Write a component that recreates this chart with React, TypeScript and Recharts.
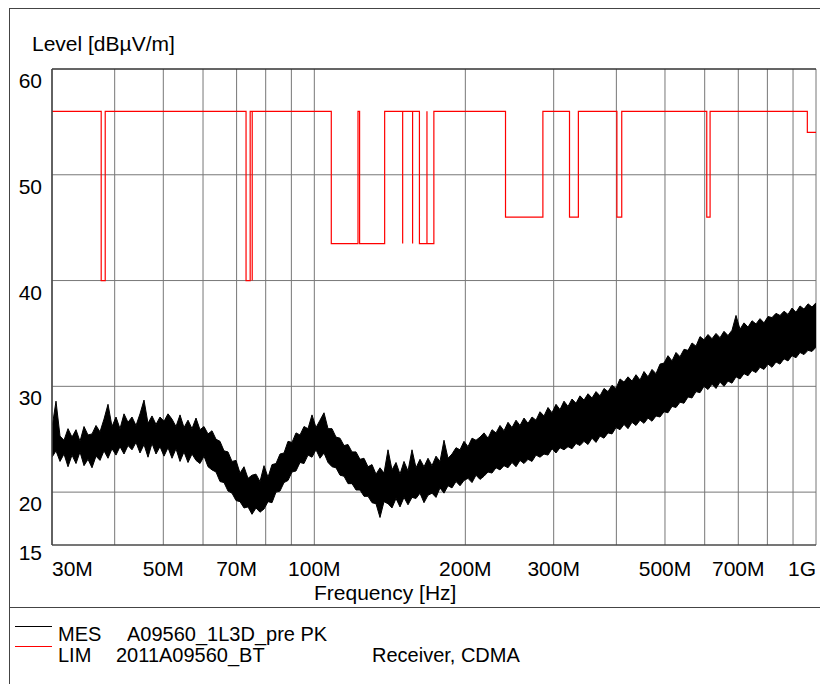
import React from "react";
import { ComposedChart, Line, Area, XAxis, YAxis, CartesianGrid, ReferenceLine } from "recharts";

// receiver sweep, log spaced 30 MHz .. 1 GHz
const SWEEP_START = 30;
const SWEEP_STOP = 1000;

// peak / dip readings of the MES trace, one pair per sweep step [dBuV/m]
const MES_PEAK = [
  26.1, 28.6, 25.3, 24.9, 26.0, 25.2, 25.9, 24.8, 26.2, 25.4,
  25.5, 26.3, 25.7, 26.9, 28.3, 26.2, 27.1, 26.0, 27.4, 26.6,
  27.1, 26.3, 27.4, 28.7, 26.5, 27.2, 26.4, 27.1, 26.7, 27.4,
  26.9, 26.2, 27.3, 26.1, 26.8, 26.0, 27.0, 25.9, 26.2, 25.5,
  25.8, 25.0, 24.8, 23.9, 23.8, 22.9, 23.0, 21.8, 22.4, 21.3,
  21.6, 21.7, 21.0, 22.5, 21.4, 22.6, 22.7, 23.6, 23.7, 24.8,
  24.7, 25.6, 25.4, 26.2, 26.0, 27.3, 26.1, 26.8, 27.5, 26.0,
  26.0, 25.2, 25.1, 24.4, 24.5, 23.8, 23.8, 23.1, 23.2, 22.4,
  22.6, 21.7, 22.3, 21.8, 24.0, 22.1, 22.8, 21.7, 22.9, 22.0,
  24.0, 22.3, 23.1, 22.4, 23.2, 22.5, 23.4, 22.9, 24.9, 23.2,
  23.6, 24.2, 24.0, 24.8, 24.3, 25.1, 24.9, 25.2, 25.6, 25.1,
  25.9, 25.6, 26.3, 25.8, 26.6, 26.1, 26.8, 26.3, 27.0, 26.5,
  27.1, 26.8, 27.6, 27.2, 28.0, 27.5, 28.3, 27.8, 28.6, 28.1,
  28.8, 28.4, 29.1, 28.7, 29.3, 28.9, 29.5, 29.1, 29.8, 29.5,
  30.1, 29.8, 30.7, 30.4, 30.9, 30.5, 31.1, 30.6, 31.4, 30.9,
  31.6, 31.2, 32.1, 32.2, 32.9, 32.4, 33.2, 32.8, 33.5, 33.4,
  34.1, 33.8, 34.7, 34.4, 34.9, 34.5, 35.0, 34.6, 35.2, 34.8,
  35.3, 36.7, 35.4, 36.0, 35.6, 36.2, 35.9, 36.4, 36.0, 36.6,
  36.5, 36.9, 36.7, 37.1, 36.8, 37.4, 37.0, 37.6, 37.3, 37.8,
  37.5, 37.9,
];
const MES_DIP = [
  23.3, 23.9, 22.9, 23.6, 22.4, 23.5, 22.7, 23.8, 22.5, 23.1,
  22.3, 23.4, 23.0, 23.9, 23.2, 24.1, 23.5, 24.3, 23.6, 24.4,
  24.0, 24.7, 23.7, 24.5, 23.3, 24.6, 23.6, 24.3, 23.4, 24.2,
  23.2, 24.1, 22.9, 23.8, 22.8, 23.6, 23.0, 22.7, 23.4, 22.4,
  22.1, 21.9, 21.0, 20.9, 20.1, 19.9, 19.2, 19.1, 18.5, 18.6,
  17.9, 18.5, 18.1, 18.4, 19.1, 19.0, 20.0, 20.1, 20.9, 21.1,
  21.9, 22.0, 22.8, 22.7, 23.5, 23.3, 24.0, 23.2, 23.7, 22.8,
  22.4, 22.3, 21.6, 21.5, 20.8, 20.8, 20.2, 20.2, 19.6, 19.6,
  19.0, 18.9, 17.6, 19.1, 18.9, 18.5, 19.4, 18.6, 19.5, 18.8,
  19.5, 19.4, 19.9, 19.0, 19.7, 19.9, 19.5, 20.4, 19.9, 20.6,
  20.4, 21.0, 20.6, 21.1, 21.3, 20.9, 21.6, 21.2, 21.5, 21.9,
  21.8, 22.3, 22.1, 22.5, 22.3, 22.8, 22.4, 23.0, 22.7, 23.1,
  22.9, 23.5, 23.3, 23.6, 23.5, 24.1, 23.7, 24.2, 24.0, 24.3,
  24.1, 24.6, 24.4, 24.8, 24.5, 25.1, 24.7, 25.3, 25.1, 25.6,
  25.5, 26.1, 25.9, 26.4, 26.0, 26.6, 26.3, 26.8, 26.5, 27.0,
  26.7, 27.2, 27.1, 27.6, 27.5, 28.1, 28.0, 28.5, 28.4, 29.0,
  28.9, 29.5, 29.4, 30.0, 29.7, 30.2, 29.8, 30.4, 30.0, 30.5,
  30.3, 30.9, 30.7, 31.2, 31.0, 31.5, 31.3, 31.8, 31.6, 32.1,
  31.8, 32.3, 32.1, 32.6, 32.4, 32.9, 32.7, 33.2, 33.0, 33.4,
  33.3, 33.7,
];

// limit line corners (MHz, dBuV/m)
const LIM_FREQ = [
  30, 37.6, 37.6, 38.3, 38.3, 73.1, 73.1, 74.5, 74.5, 75.2, 75.2, 75.2,
  108.1, 108.1, 122.2, 122.2, 123.1, 123.1, 138.1, 138.1,
  150, 150, 150, 157, 157, 157, 162, 162, 167.7, 167.7, 167.7, 173.1, 173.1,
  240.5, 240.5, 285.5, 285.5, 322.6, 322.6, 336, 336,
  401, 401, 410, 410, 605.7, 605.7, 615, 615, 961, 961, 1000,
];
const LIM_LEVEL = [
  56, 56, 40, 40, 56, 56, 40, 40, 56, 56, 40, 56,
  56, 43.5, 43.5, 56, 56, 43.5, 43.5, 56,
  56, 43.5, 56, 56, 43.5, 56, 56, 43.5, 43.5, 56, 43.5, 43.5, 56,
  56, 46, 46, 56, 56, 46, 46, 56,
  56, 46, 46, 56, 56, 46, 46, 56, 56, 54, 54,
];

const GRID_FREQ = [30, 40, 50, 60, 70, 80, 90, 100, 200, 300, 400, 500, 600, 700, 800, 900, 1000];
const FREQ_LABELS: Record<number, string> = {
  30: "30M", 50: "50M", 70: "70M", 100: "100M", 200: "200M",
  300: "300M", 500: "500M", 700: "700M", 1000: "1G",
};
const LEVEL_TICKS = [15, 20, 30, 40, 50, 60];

const steps = MES_PEAK.length;
const mesData = MES_PEAK.map((peak, i) => ({
  f: SWEEP_START * Math.pow(SWEEP_STOP / SWEEP_START, i / (steps - 1)),
  mes: [MES_DIP[i], peak],
}));
const limData = LIM_FREQ.map((f, i) => ({ f, lim: LIM_LEVEL[i] }));

const FONT = "'Liberation Sans', Arial, sans-serif";

const FreqTick = (props: any) => {
  const { x, y, payload } = props;
  const label = FREQ_LABELS[payload.value];
  if (!label) return null;
  const anchor = payload.value === 30 ? "start" : payload.value === 1000 ? "end" : "middle";
  return (
    <text x={x} y={y + 23} textAnchor={anchor} fontSize={21} fill="#000" fontFamily={FONT}>
      {label}
    </text>
  );
};

const LevelTick = (props: any) => {
  const { y, payload } = props;
  const dy = payload.value === 15 ? 15 : 19;
  return (
    <text x={42} y={y + dy} textAnchor="end" fontSize={21} fill="#000" fontFamily={FONT}>
      {payload.value}
    </text>
  );
};

const App: React.FC = () => {
  return (
    <div style={{ position: "absolute", left: 0, top: 0, width: 820, height: 684, background: "#fff", overflow: "hidden", fontFamily: FONT }}>
      <div style={{ position: "absolute", left: 9, top: 8, width: 830, height: 700, borderLeft: "1px solid #444", borderTop: "1px solid #444" }} />
      <div style={{ position: "absolute", left: 9, top: 607, width: 830, borderTop: "1px solid #444" }} />
      <div style={{ position: "absolute", left: 32, top: 32, fontSize: 21, lineHeight: "24px" }}>Level [dBµV/m]</div>

      <div style={{ position: "absolute", left: 0, top: 0 }}>
        <ComposedChart width={820} height={600} margin={{ top: 69, right: 4, left: 12, bottom: 25 }}>
          <CartesianGrid stroke="#777" strokeWidth={1} />
          <XAxis
            dataKey="f"
            type="number"
            scale="log"
            domain={[30, 1000]}
            ticks={GRID_FREQ}
            interval={0}
            allowDataOverflow
            height={30}
            tickLine={false}
            axisLine={{ stroke: "#333" }}
            tick={<FreqTick />}
          />
          <YAxis
            type="number"
            domain={[15, 60]}
            ticks={LEVEL_TICKS}
            interval={0}
            allowDataOverflow
            width={40}
            tickLine={false}
            axisLine={{ stroke: "#444", strokeWidth: 1.5 }}
            tick={<LevelTick />}
          />
          <ReferenceLine y={60} stroke="#111" />
          <Area data={mesData} dataKey="mes" type="linear" stroke="#000" strokeWidth={1} fill="#000" fillOpacity={1} dot={false} activeDot={false} isAnimationActive={false} />
          <Line data={limData} dataKey="lim" stroke="#ff0000" strokeWidth={1.2} dot={false} isAnimationActive={false} />
        </ComposedChart>
      </div>

      <div style={{ position: "absolute", left: 314, top: 581, fontSize: 21, lineHeight: "24px" }}>Frequency [Hz]</div>

      <div style={{ position: "absolute", left: 15, top: 626, width: 37, borderTop: "1px solid #000" }} />
      <div style={{ position: "absolute", left: 15, top: 646, width: 37, borderTop: "1.5px solid #ff0000" }} />
      <div style={{ position: "absolute", left: 58, top: 624, fontSize: 20, lineHeight: "20px", whiteSpace: "pre" }}>
        <span>MES</span>
        <span style={{ position: "absolute", left: 69 }}>A09560_1L3D_pre PK</span>
      </div>
      <div style={{ position: "absolute", left: 58, top: 645, fontSize: 20, lineHeight: "20px", whiteSpace: "pre" }}>
        <span>LIM</span>
        <span style={{ position: "absolute", left: 58 }}>2011A09560_BT</span>
        <span style={{ position: "absolute", left: 314 }}>Receiver, CDMA</span>
      </div>
    </div>
  );
};

export default App;
